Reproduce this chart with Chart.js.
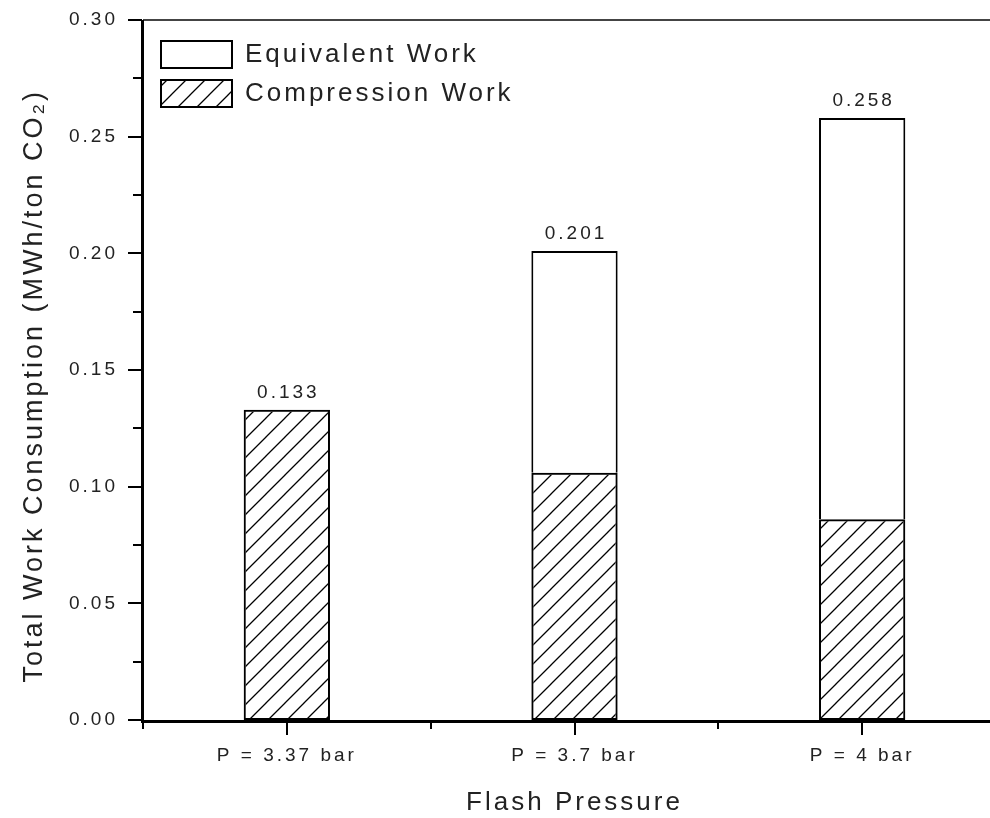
<!DOCTYPE html>
<html>
<head>
<meta charset="utf-8">
<script src="https://cdn.jsdelivr.net/npm/chart.js@4"></script>
<style>
  html, body { margin: 0; padding: 0; background: #fff; overflow: hidden; }
  canvas { display: block; }
</style>
</head>
<body>
<canvas id="chart-work" width="1006" height="818"></canvas>
<script>
const pressures = ['P = 3.37 bar', 'P = 3.7 bar', 'P = 4 bar'];
const compressionWork = [0.133, 0.106, 0.086];
const equivalentWork = [null, 0.095, 0.172];

const canvas = document.getElementById('chart-work');

// diagonal hatch like the original plot
function makeHatch() {
    const c = document.createElement('canvas');
    c.width = 19;
    c.height = 19;
    const g = c.getContext('2d');
    g.strokeStyle = '#000';
    g.lineWidth = 1.3;
    g.beginPath();
    g.moveTo(-2, 21); g.lineTo(21, -2);
    g.moveTo(-2, 2); g.lineTo(2, -2);
    g.moveTo(17, 21); g.lineTo(21, 17);
    g.stroke();
    return canvas.getContext('2d').createPattern(c, 'repeat');
}

const textColor = '#222';
const font = 'Liberation Sans, Arial, sans-serif';

const axesPlugin = {
    id: 'axesPlugin',
    beforeUpdate(chart) { chart.ctx.letterSpacing = '3px'; },
    beforeDraw(chart) { chart.ctx.letterSpacing = '3px'; },
    afterLayout(chart) {
        // legend inside the plot, top left
        const lg = chart.legend;
        const h = lg.bottom - lg.top;
        lg.left = chart.chartArea.left + 6;
        lg.top = chart.chartArea.top + 9;
        lg.bottom = lg.top + h;
    },
    afterDatasetsDraw(chart) {
        const {ctx, scales: {x, y}} = chart;
        ctx.save();
        ctx.fillStyle = textColor;
        ctx.font = '19px ' + font;
        ctx.textAlign = 'center';
        ctx.textBaseline = 'alphabetic';
        pressures.forEach((p, i) => {
            const total = compressionWork[i] + (equivalentWork[i] || 0);
            ctx.fillText(total.toFixed(3), x.getPixelForValue(i) + 1.5, y.getPixelForValue(total) - 12);
        });
        ctx.restore();
    },
    afterDraw(chart) {
        const {ctx, chartArea: a, scales: {x, y}} = chart;
        ctx.save();
        // top frame
        ctx.strokeStyle = '#444';
        ctx.lineWidth = 2;
        ctx.beginPath();
        ctx.moveTo(a.left, a.top);
        ctx.lineTo(a.right, a.top);
        ctx.stroke();
        // axis lines
        ctx.strokeStyle = '#000';
        ctx.lineWidth = 3;
        ctx.beginPath();
        ctx.moveTo(a.left - 0.5, a.top);
        ctx.lineTo(a.left - 0.5, a.bottom + 1.5);
        ctx.lineTo(a.right, a.bottom + 1.5);
        ctx.stroke();
        // ticks
        ctx.lineWidth = 2;
        ctx.beginPath();
        for (let k = 0; k <= 12; k++) {
            const py = Math.round(y.getPixelForValue(k * 0.025));
            const len = k % 2 === 0 ? 14 : 9;
            ctx.moveTo(a.left - 1, py);
            ctx.lineTo(a.left - 1 - len, py);
        }
        pressures.forEach((p, i) => {
            const cx = Math.round(x.getPixelForValue(i));
            ctx.moveTo(cx, a.bottom);
            ctx.lineTo(cx, a.bottom + 15);
            const bx = Math.round(x.getPixelForValue(i - 0.5));
            ctx.moveTo(bx, a.bottom);
            ctx.lineTo(bx, a.bottom + 9);
        });
        ctx.stroke();
        ctx.restore();
    }
};

const hatch = makeHatch();

const dataWork = {
    labels: pressures,
    datasets: [{
        label: 'Compression Work',
        data: compressionWork,
        backgroundColor: hatch,
        borderColor: '#000',
        borderWidth: 2,
        borderSkipped: false,
        barPercentage: 1,
        categoryPercentage: 0.3
    }, {
        label: 'Equivalent Work',
        data: equivalentWork,
        backgroundColor: '#fff',
        borderColor: '#000',
        borderWidth: 2,
        borderSkipped: 'start',
        barPercentage: 1,
        categoryPercentage: 0.3
    }]
};

const configWork = {
    type: 'bar',
    data: dataWork,
    options: {
        responsive: false,
        animation: false,
        devicePixelRatio: 1,
        layout: {
            padding: {top: 20, right: 0, bottom: 0, left: 0}
        },
        plugins: {
            tooltip: {enabled: false},
            legend: {
                position: 'chartArea',
                align: 'start',
                reverse: true,
                labels: {
                    boxWidth: 71,
                    boxHeight: 27,
                    padding: 12,
                    color: textColor,
                    font: {family: font, size: 26}
                }
            }
        },
        scales: {
            x: {
                stacked: true,
                grid: {display: false, drawTicks: false},
                border: {display: false},
                ticks: {color: textColor, padding: 24, font: {family: font, size: 19}},
                title: {
                    display: true,
                    text: 'Flash Pressure',
                    color: textColor,
                    padding: {top: 0, bottom: 0},
                    font: {family: font, size: 26}
                },
                afterFit(scale) {
                    scale.height = 98;
                    scale.paddingLeft = 0;
                    scale.paddingRight = 0;
                }
            },
            y: {
                stacked: true,
                min: 0,
                max: 0.3,
                grid: {display: false, drawTicks: false},
                border: {display: false},
                ticks: {
                    stepSize: 0.05,
                    color: textColor,
                    padding: 25,
                    font: {family: font, size: 19},
                    callback: v => v.toFixed(2)
                },
                title: {
                    display: true,
                    text: 'Total Work Consumption (MWh/ton CO₂)   ',
                    color: textColor,
                    padding: {top: 18, bottom: 0},
                    font: {family: font, size: 27}
                },
                afterFit(scale) {
                    scale.width = 143;
                    scale.paddingTop = 0;
                    scale.paddingBottom = 0;
                }
            }
        }
    },
    plugins: [axesPlugin]
};

const chartWork = new Chart(canvas, configWork);
</script>
</body>
</html>
